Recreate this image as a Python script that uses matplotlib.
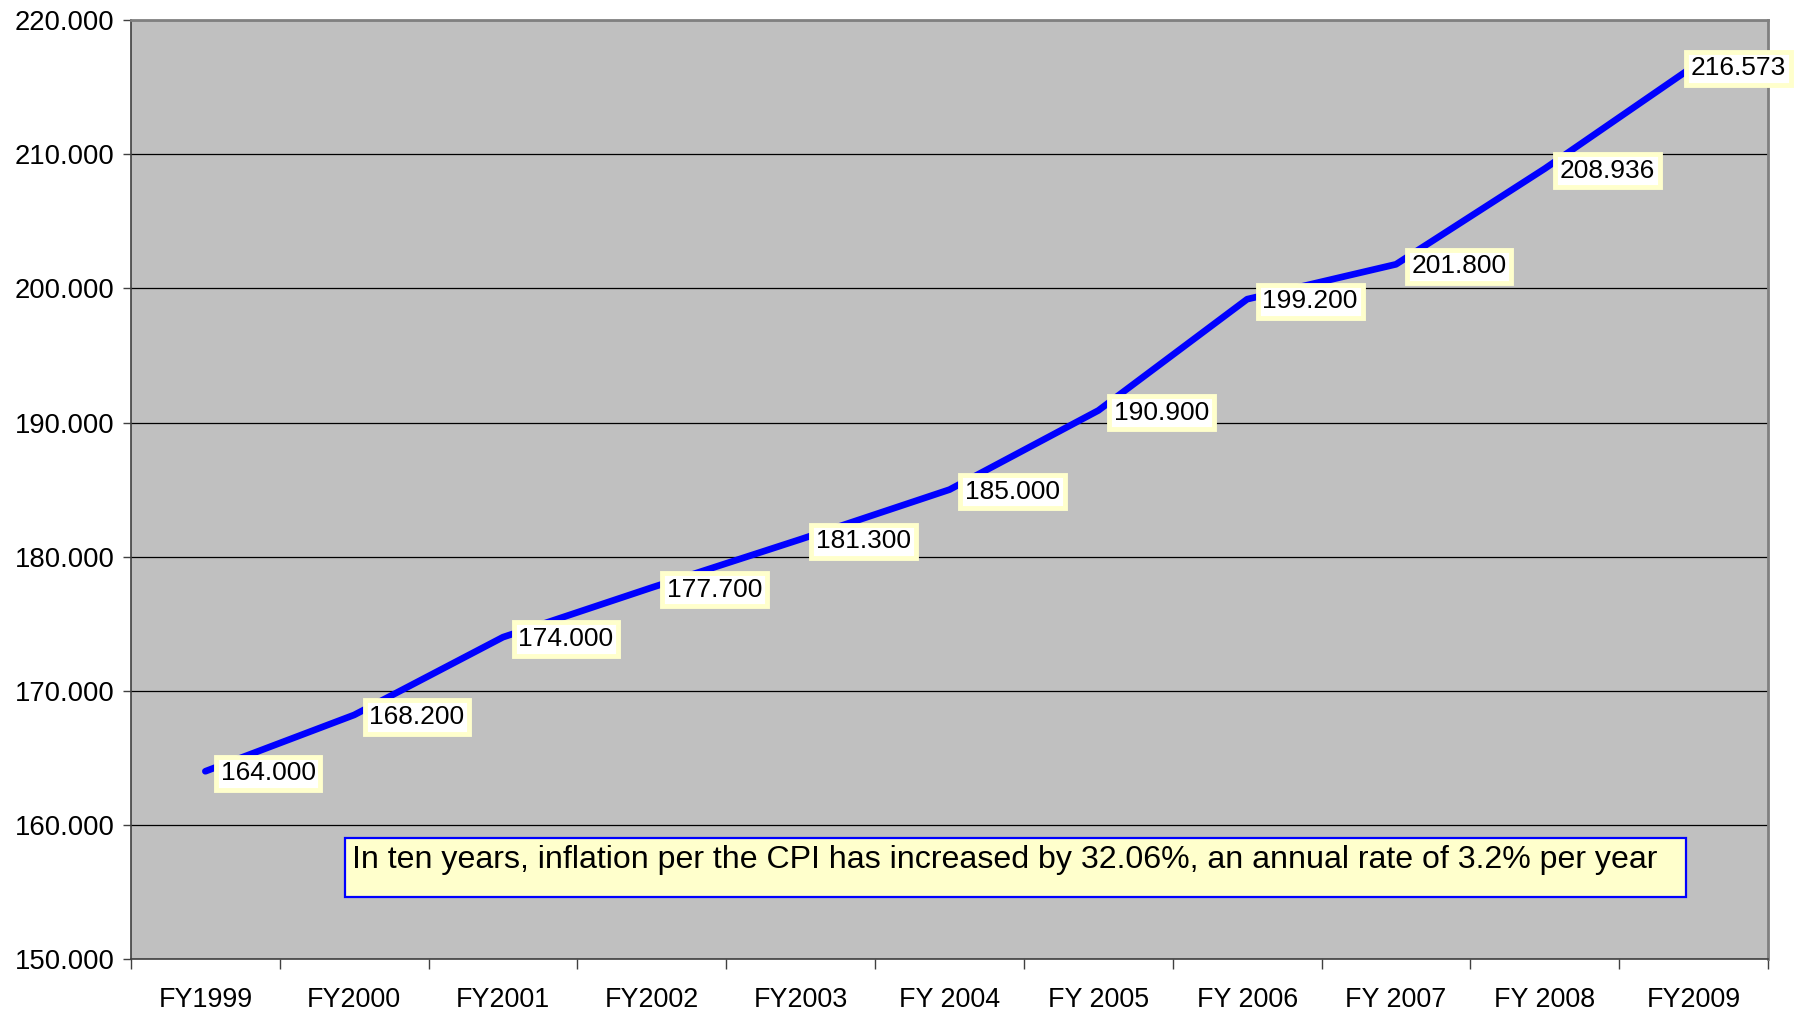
import numpy as np
import matplotlib
matplotlib.use('Agg')
import matplotlib.pyplot as plt
from matplotlib.patches import Rectangle

plt.rcParams['font.family'] = ['Liberation Sans', 'DejaVu Sans']

# data (CPI by fiscal year)
years = ["FY1999", "FY2000", "FY2001", "FY2002", "FY2003", "FY 2004",
         "FY 2005", "FY 2006", "FY 2007", "FY 2008", "FY2009"]
cpi = [164.000, 168.200, 174.000, 177.700, 181.300, 185.000,
       190.900, 199.200, 201.800, 208.936, 216.573]
note = "In ten years, inflation per the CPI has increased by 32.06%, an annual rate of 3.2% per year"

fig = plt.figure(figsize=(18.06, 10.11), dpi=100)
ax = fig.add_axes([0.0725, 0.0514, 0.9065, 0.9286])
ax.set_facecolor('#C0C0C0')

x = np.arange(len(years)) + 0.5
ax.plot(x, cpi, color='#0000FF', lw=4.8, solid_capstyle='round', zorder=3)

# data labels to the right of each point (last one pulled back so it fits)
for i, (xi, v) in enumerate(zip(x, cpi)):
    dx = 11 if i < len(cpi) - 1 else -2
    ax.annotate("%.3f" % v, (xi, v), xytext=(dx, -1.5), textcoords='offset points',
                ha='left', va='center', fontsize=19, color='black', zorder=5,
                bbox=dict(boxstyle='square,pad=0.18', fc='white', ec='#FFFFCC', lw=3.5))

ax.set_xlim(0, len(years))
ax.set_ylim(150, 220)
ax.set_yticks(np.arange(150, 221, 10))
ax.set_yticklabels(["%.3f" % t for t in np.arange(150, 221, 10)])
ax.set_xticks(np.arange(0, len(years) + 1))
ax.set_xticklabels([])
ax.set_xticks(x, minor=True)
ax.set_xticklabels(years, minor=True)
ax.tick_params(axis='x', which='major', length=7, width=1, color='#404040')
ax.tick_params(axis='x', which='minor', length=0, pad=20, labelsize=19.4)
ax.tick_params(axis='y', length=6, width=1, pad=6, labelsize=19.8, color='#404040')

ax.grid(axis='y', color='black', lw=0.9)
ax.set_axisbelow(True)

for s in ['left', 'bottom']:
    ax.spines[s].set_color('#404040')
    ax.spines[s].set_linewidth(1.2)
for s in ['top', 'right']:
    ax.spines[s].set_color('#808080')
    ax.spines[s].set_linewidth(2)

# note box
ax.add_patch(Rectangle((0.1307, 0.066), 0.819, 0.0629, transform=ax.transAxes,
                       fc='#FFFFCC', ec='#0000FF', lw=1.6, zorder=4))
ax.text(0.1350, 0.106, note, transform=ax.transAxes, ha='left', va='center',
        fontsize=23.1, zorder=6)

fig.savefig('out.png', dpi=100)
